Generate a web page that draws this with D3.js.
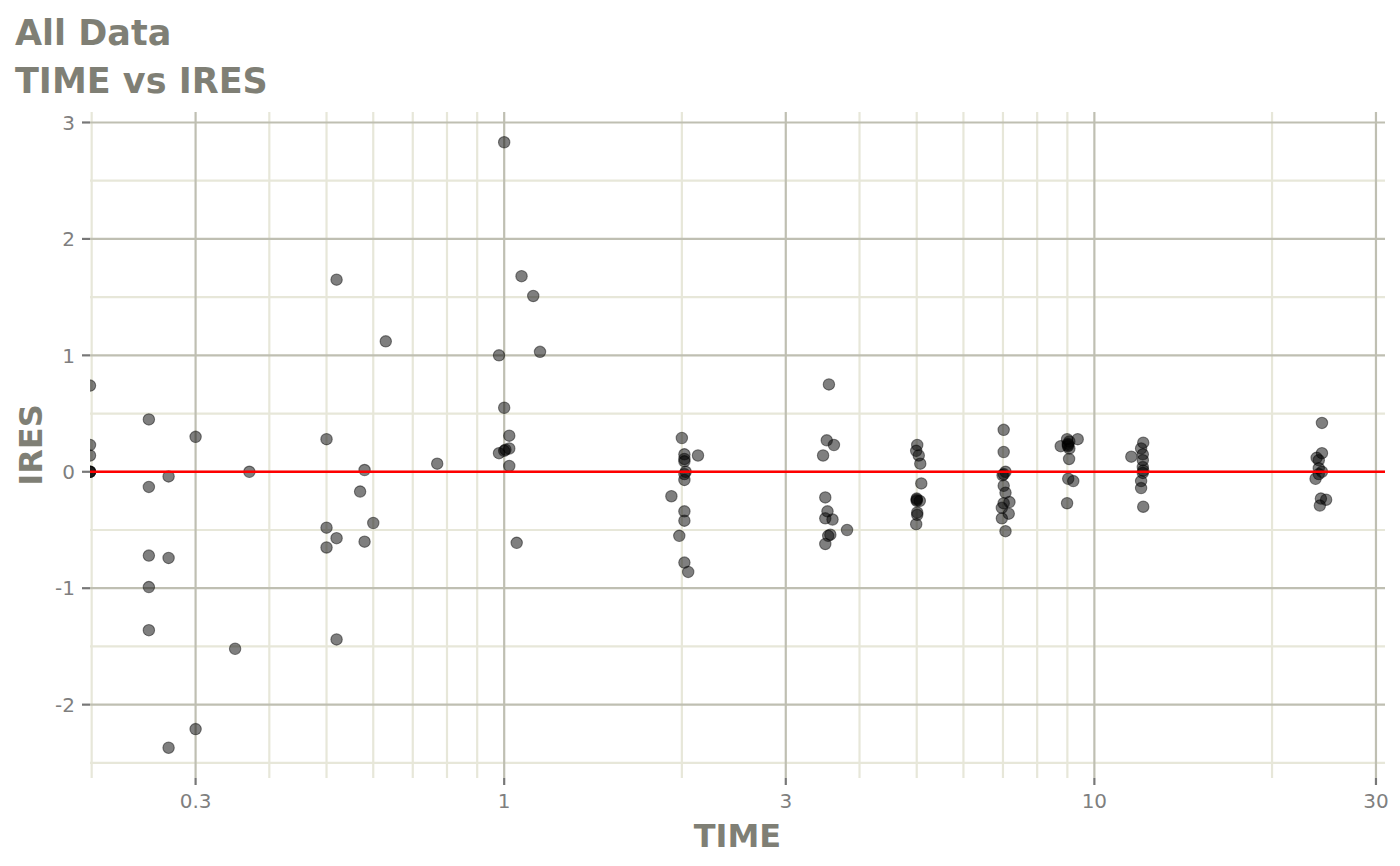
<!DOCTYPE html>
<html>
<head>
<meta charset="utf-8">
<script src="https://cdn.jsdelivr.net/npm/d3@7"></script>
<style>
  body { margin: 0; background: #fff; }
  text { font-family: "DejaVu Sans", sans-serif; }
</style>
</head>
<body>
<div id="chart"></div>
<script>
// TIME = 0 points sit on the left panel edge (log of 0), like ggplot does
let time = [
  0, 0, 0, 0, 0, 0,
  0.25, 0.25, 0.25, 0.25, 0.25,
  0.27, 0.27, 0.27,
  0.30, 0.30, 0.35, 0.37,
  0.50, 0.50, 0.50,
  0.52, 0.52, 0.52,
  0.57, 0.58, 0.58, 0.60, 0.63, 0.77,
  0.98, 0.98, 1.00, 1.00, 1.00, 1.005, 1.02, 1.02, 1.02, 1.05, 1.07, 1.12, 1.15,
  2.00, 2.02, 2.02, 2.02, 2.02, 2.02, 2.02, 2.02, 2.02, 2.03, 2.13, 1.92, 1.98, 2.05,
  3.52, 3.62, 3.47, 3.55, 3.50, 3.50, 3.50, 3.53, 3.60, 3.81, 3.54, 3.57,
  5.01, 4.99, 4.99, 5.04, 5.07, 5.09, 5.00, 5.00, 5.00, 5.06, 5.01, 5.01,
  7.02, 7.02, 7.02, 7.02, 7.02, 6.99, 7.07, 7.07, 7.07, 7.18, 6.97, 6.97, 7.16,
  9.37, 8.99, 8.99, 9.07, 9.07, 9.02, 9.02, 9.02, 8.77, 9.06, 9.03, 9.21,
  12.1, 12.1, 12.1, 12.0, 12.0, 12.0, 11.55, 12.08, 12.08, 12.08, 12.08,
  24.3, 24.3, 24.3, 23.8, 24.0, 24.0, 24.0, 23.7, 24.7, 24.1, 24.2
]
let ires = [
  0.74, 0.23, 0.14, 0, 0, 0,
  0.45, -0.13, -0.72, -0.99, -1.36,
  -0.04, -0.74, -2.37,
  0.30, -2.21, -1.52, 0.00,
  0.28, -0.48, -0.65,
  1.65, -0.57, -1.44,
  -0.17, 0.015, -0.60, -0.44, 1.12, 0.07,
  1.00, 0.16, 2.83, 0.55, 0.18, 0.19, 0.31, 0.20, 0.05, -0.61, 1.68, 1.51, 1.03,
  0.29, 0.15, 0.11, 0.09, -0.02, -0.07, -0.34, -0.42, -0.78, 0.00, 0.14, -0.21, -0.55, -0.86,
  0.27, 0.23, 0.14, 0.75, -0.22, -0.40, -0.62, -0.34, -0.41, -0.50, -0.55, -0.54,
  0.23, 0.18, -0.45, 0.14, 0.07, -0.10, -0.23, -0.24, -0.25, -0.25, -0.35, -0.37,
  0.36, 0.17, -0.02, -0.12, -0.27, -0.03, 0.00, -0.18, -0.51, -0.26, -0.31, -0.40, -0.36,
  0.28, 0.28, -0.27, 0.26, 0.20, 0.23, 0.24, 0.22, 0.22, 0.11, -0.06, -0.08,
  0.25, 0.01, -0.30, 0.20, -0.08, -0.14, 0.13, 0.15, 0.10, -0.01, 0.04,
  0.42, 0.16, 0.00, 0.12, 0.10, 0.03, -0.02, -0.06, -0.24, -0.29, -0.23
]
let xTicks = [0.3, 1, 3, 10, 30]
let xTickLabels = ["0.3", "1", "3", "10", "30"]
let yTicks = [-2, -1, 0, 1, 2, 3]
let yTickLabels = ["-2", "-1", "0", "1", "2", "3"]
let yMinor = [-2.5, -1.5, -0.5, 0.5, 1.5, 2.5]

let width = 1400,
    height = 866
let pLeft = 90, pRight = 1385, pTop = 112, pBottom = 778
let titleColor = "#7f7f75",
    tickColor = "#7f7f7f",
    tickMark = "#777777",
    majorGrid = "#bfbfb2",
    minorGrid = "#e7e7d9"

let data = time.map(function(t, i) { return { time: t, ires: ires[i] }; })

// 5% expansion in log space on positive times
let pos = time.filter(function(t) { return t > 0; })
let lo = Math.log10(d3.min(pos)), hi = Math.log10(d3.max(pos))
let xpad = (hi - lo) * 0.05
let xScale = d3.scaleLog()
    .domain([Math.pow(10, lo - xpad), Math.pow(10, hi + xpad)])
    .range([pLeft, pRight])
    .clamp(true)

let ext = d3.extent(ires)
let ypad = (ext[1] - ext[0]) * 0.05
let yScale = d3.scaleLinear()
    .domain([ext[0] - ypad, ext[1] + ypad])
    .range([pBottom, pTop])

// minor log breaks: 2..9 x 10^k, skipping majors
let xMinor = []
let dom = xScale.domain()
for (let k = -1; k <= 1; k++) {
    for (let m = 2; m <= 9; m++) {
        let v = m * Math.pow(10, k)
        if (v >= dom[0] * 0.999 && v <= dom[1] && xTicks.indexOf(+v.toPrecision(3)) < 0) xMinor.push(v)
    }
}

let svg = d3.select("#chart").append("svg")
    .attr("width", width)
    .attr("height", height)

svg.append("defs").append("clipPath").attr("id", "panel")
    .append("rect")
    .attr("x", pLeft).attr("y", pTop)
    .attr("width", pRight - pLeft).attr("height", pBottom - pTop)

let grid = svg.append("g")
grid.selectAll(".xminor").data(xMinor).enter().append("line")
    .attr("x1", function(d) { return xScale(d); }).attr("x2", function(d) { return xScale(d); })
    .attr("y1", pTop).attr("y2", pBottom)
    .attr("stroke", minorGrid).attr("stroke-width", 2.2)
grid.selectAll(".yminor").data(yMinor).enter().append("line")
    .attr("x1", pLeft).attr("x2", pRight)
    .attr("y1", function(d) { return yScale(d); }).attr("y2", function(d) { return yScale(d); })
    .attr("stroke", minorGrid).attr("stroke-width", 2.2)
grid.selectAll(".xmajor").data(xTicks).enter().append("line")
    .attr("x1", function(d) { return xScale(d); }).attr("x2", function(d) { return xScale(d); })
    .attr("y1", pTop).attr("y2", pBottom)
    .attr("stroke", majorGrid).attr("stroke-width", 2.2)
grid.selectAll(".ymajor").data(yTicks).enter().append("line")
    .attr("x1", pLeft).attr("x2", pRight)
    .attr("y1", function(d) { return yScale(d); }).attr("y2", function(d) { return yScale(d); })
    .attr("stroke", majorGrid).attr("stroke-width", 2.2)

let panel = svg.append("g").attr("clip-path", "url(#panel)")
panel.selectAll(".pt").data(data).enter().append("circle")
    .attr("cx", function(d) { return xScale(d.time); })
    .attr("cy", function(d) { return yScale(d.ires); })
    .attr("r", 5.7)
    .attr("fill", "rgba(0,0,0,0.5)")
    .attr("stroke", "rgba(0,0,0,0.45)")
    .attr("stroke-width", 1.1)

panel.append("line")
    .attr("x1", pLeft).attr("x2", pRight)
    .attr("y1", yScale(0)).attr("y2", yScale(0))
    .attr("stroke", "#ff0000").attr("stroke-width", 2.6)

// x axis
let xAxis = svg.append("g")
xAxis.selectAll(".tick").data(xTicks).enter().append("line")
    .attr("x1", function(d) { return xScale(d); }).attr("x2", function(d) { return xScale(d); })
    .attr("y1", pBottom).attr("y2", pBottom + 7)
    .attr("stroke", tickMark).attr("stroke-width", 2.2)
xAxis.selectAll(".lab").data(xTicks).enter().append("text")
    .attr("x", function(d) { return xScale(d); })
    .attr("y", pBottom + 30)
    .attr("text-anchor", "middle")
    .attr("font-size", 20)
    .attr("fill", tickColor)
    .text(function(d, i) { return xTickLabels[i]; })

// y axis
let yAxis = svg.append("g")
yAxis.selectAll(".tick").data(yTicks).enter().append("line")
    .attr("x1", pLeft - 8).attr("x2", pLeft)
    .attr("y1", function(d) { return yScale(d); }).attr("y2", function(d) { return yScale(d); })
    .attr("stroke", tickMark).attr("stroke-width", 2.2)
yAxis.selectAll(".lab").data(yTicks).enter().append("text")
    .attr("x", pLeft - 15)
    .attr("y", function(d) { return yScale(d); })
    .attr("dy", "0.36em")
    .attr("text-anchor", "end")
    .attr("font-size", 20)
    .attr("fill", tickColor)
    .text(function(d, i) { return yTickLabels[i]; })

svg.append("text")
    .attr("x", (pLeft + pRight) / 2).attr("y", 847)
    .attr("text-anchor", "middle")
    .attr("font-size", 32).attr("font-weight", "bold")
    .attr("fill", titleColor)
    .text("TIME")
svg.append("text")
    .attr("transform", "translate(42," + (pTop + pBottom) / 2 + ") rotate(-90)")
    .attr("text-anchor", "middle")
    .attr("font-size", 32).attr("font-weight", "bold")
    .attr("fill", titleColor)
    .text("IRES")

svg.append("text")
    .attr("x", 15).attr("y", 45)
    .attr("font-size", 35).attr("font-weight", "bold")
    .attr("fill", titleColor)
    .text("All Data")
svg.append("text")
    .attr("x", 15).attr("y", 93)
    .attr("font-size", 35).attr("font-weight", "bold")
    .attr("fill", titleColor)
    .text("TIME vs IRES")
</script>
</body>
</html>
